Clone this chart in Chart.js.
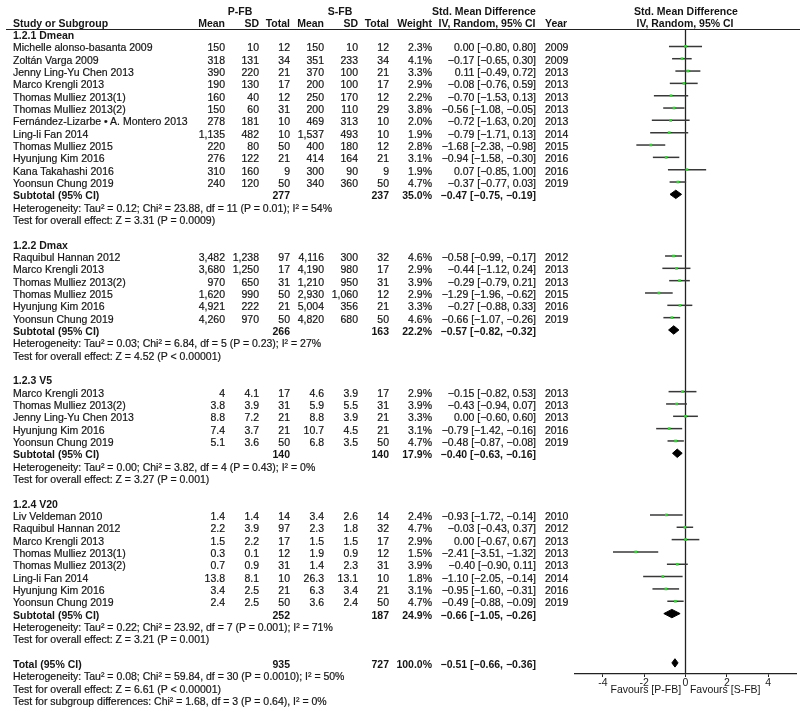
<!DOCTYPE html>
<html>
<head>
<meta charset="utf-8">
<script src="https://cdn.jsdelivr.net/npm/chart.js@4.4.0/dist/chart.umd.min.js"></script>
<style>
    body { margin: 0; background: #fff; }
    #wrap {
        position: relative; width: 800px; height: 710px; overflow: hidden;
        font-family: "Liberation Sans", Arial, sans-serif; font-size: 10.5px; color: #151515;
    }
    #plot { position: absolute; left: 0; top: 0; }
    .t { position: absolute; white-space: nowrap; line-height: 12px; height: 12px; -webkit-text-stroke: 0.2px #151515; }
    .b { font-weight: bold; -webkit-text-stroke: 0; }
    .hline { position: absolute; left: 6px; width: 794px; top: 29px; border-top: 1.5px solid #222; }
</style>
</head>
<body>
<div id="wrap">
    <canvas id="plot" width="800" height="710"></canvas>
    <div class="hline"></div>
    <div id="table"></div>
</div>
<script>
const groupLabels = ['1.2.1 Dmean', '1.2.2 Dmax', '1.2.3 V5', '1.2.4 V20'];
const groupSizes = [12, 6, 5, 8];

const studies = [
    'Michelle alonso-basanta 2009', 'Zoltán Varga 2009', 'Jenny Ling-Yu Chen 2013', 'Marco Krengli 2013',
    'Thomas Mulliez 2013(1)', 'Thomas Mulliez 2013(2)', 'Fernández-Lizarbe • A. Montero 2013', 'Ling-li Fan 2014',
    'Thomas Mulliez 2015', 'Hyunjung Kim 2016', 'Kana Takahashi 2016', 'Yoonsun Chung 2019',
    'Raquibul Hannan 2012', 'Marco Krengli 2013', 'Thomas Mulliez 2013(2)', 'Thomas Mulliez 2015',
    'Hyunjung Kim 2016', 'Yoonsun Chung 2019',
    'Marco Krengli 2013', 'Thomas Mulliez 2013(2)', 'Jenny Ling-Yu Chen 2013', 'Hyunjung Kim 2016', 'Yoonsun Chung 2019',
    'Liv Veldeman 2010', 'Raquibul Hannan 2012', 'Marco Krengli 2013', 'Thomas Mulliez 2013(1)',
    'Thomas Mulliez 2013(2)', 'Ling-li Fan 2014', 'Hyunjung Kim 2016', 'Yoonsun Chung 2019'
];
const years = [2009, 2009, 2013, 2013, 2013, 2013, 2013, 2014, 2015, 2016, 2016, 2019,
    2012, 2013, 2013, 2015, 2016, 2019,
    2013, 2013, 2013, 2016, 2019,
    2010, 2012, 2013, 2013, 2013, 2014, 2016, 2019];

const pMean = [150, 318, 390, 190, 160, 150, 278, 1135, 220, 276, 310, 240,
    3482, 3680, 970, 1620, 4921, 4260,
    4, 3.8, 8.8, 7.4, 5.1,
    1.4, 2.2, 1.5, 0.3, 0.7, 13.8, 3.4, 2.4];
const pSD = [10, 131, 220, 130, 40, 60, 181, 482, 80, 122, 160, 120,
    1238, 1250, 650, 990, 222, 970,
    4.1, 3.9, 7.2, 3.7, 3.6,
    1.4, 3.9, 2.2, 0.1, 0.9, 8.1, 2.5, 2.5];
const pTotal = [12, 34, 21, 17, 12, 31, 10, 10, 50, 21, 9, 50,
    97, 17, 31, 50, 21, 50,
    17, 31, 21, 21, 50,
    14, 97, 17, 12, 31, 10, 21, 50];
const sMean = [150, 351, 370, 200, 250, 200, 469, 1537, 400, 414, 300, 340,
    4116, 4190, 1210, 2930, 5004, 4820,
    4.6, 5.9, 8.8, 10.7, 6.8,
    3.4, 2.3, 1.5, 1.9, 1.4, 26.3, 6.3, 3.6];
const sSD = [10, 233, 100, 100, 170, 110, 313, 493, 180, 164, 90, 360,
    300, 980, 950, 1060, 356, 680,
    3.9, 5.5, 3.9, 4.5, 3.5,
    2.6, 1.8, 1.5, 0.9, 2.3, 13.1, 3.4, 2.4];
const sTotal = [12, 34, 21, 17, 12, 29, 10, 10, 12, 21, 9, 50,
    32, 17, 31, 12, 21, 50,
    17, 31, 21, 21, 50,
    14, 32, 17, 12, 31, 10, 21, 50];
const weights = [2.3, 4.1, 3.3, 2.9, 2.2, 3.8, 2.0, 1.9, 2.8, 3.1, 1.9, 4.7,
    4.6, 2.9, 3.9, 2.9, 3.3, 4.6,
    2.9, 3.9, 3.3, 3.1, 4.7,
    2.4, 4.7, 2.9, 1.5, 3.9, 1.8, 3.1, 4.7];
const smd = [0.00, -0.17, 0.11, -0.08, -0.70, -0.56, -0.72, -0.79, -1.68, -0.94, 0.07, -0.37,
    -0.58, -0.44, -0.29, -1.29, -0.27, -0.66,
    -0.15, -0.43, 0.00, -0.79, -0.48,
    -0.93, -0.03, 0.00, -2.41, -0.40, -1.10, -0.95, -0.49];
const ciLow = [-0.80, -0.65, -0.49, -0.76, -1.53, -1.08, -1.63, -1.71, -2.38, -1.58, -0.85, -0.77,
    -0.99, -1.12, -0.79, -1.96, -0.88, -1.07,
    -0.82, -0.94, -0.60, -1.42, -0.87,
    -1.72, -0.43, -0.67, -3.51, -0.90, -2.05, -1.60, -0.88];
const ciHigh = [0.80, 0.30, 0.72, 0.59, 0.13, -0.05, 0.20, 0.13, -0.98, -0.30, 1.00, 0.03,
    -0.17, 0.24, 0.21, -0.62, 0.33, -0.26,
    0.53, 0.07, 0.60, -0.16, -0.08,
    -0.14, 0.37, 0.67, -1.32, 0.11, -0.14, -0.31, -0.09];

const subPTotal = [277, 266, 140, 252];
const subSTotal = [237, 163, 140, 187];
const subWeight = [35.0, 22.2, 17.9, 24.9];
const subSmd = [-0.47, -0.57, -0.40, -0.66];
const subLow = [-0.75, -0.82, -0.63, -1.05];
const subHigh = [-0.19, -0.32, -0.16, -0.26];
const subHet = [
    'Heterogeneity: Tau² = 0.12; Chi² = 23.88, df = 11 (P = 0.01); I² = 54%',
    'Heterogeneity: Tau² = 0.03; Chi² = 6.84, df = 5 (P = 0.23); I² = 27%',
    'Heterogeneity: Tau² = 0.00; Chi² = 3.82, df = 4 (P = 0.43); I² = 0%',
    'Heterogeneity: Tau² = 0.22; Chi² = 23.92, df = 7 (P = 0.001); I² = 71%'
];
const subZ = [
    'Test for overall effect: Z = 3.31 (P = 0.0009)',
    'Test for overall effect: Z = 4.52 (P < 0.00001)',
    'Test for overall effect: Z = 3.27 (P = 0.001)',
    'Test for overall effect: Z = 3.21 (P = 0.001)'
];

const totalP = 935;
const totalS = 727;
const totalWeight = 100.0;
const totalSmd = -0.51;
const totalLow = -0.66;
const totalHigh = -0.36;
const totalNotes = [
    'Heterogeneity: Tau² = 0.08; Chi² = 59.84, df = 30 (P = 0.0010); I² = 50%',
    'Test for overall effect: Z = 6.61 (P < 0.00001)',
    'Test for subgroup differences: Chi² = 1.68, df = 3 (P = 0.64), I² = 0%'
];

const xTicks = [-4, -2, 0, 2, 4];

// rows of the table, top to bottom
const rows = [];
let row = 0;
let si = 0;
groupLabels.forEach((g, gi) => {
    rows.push({ kind: 'group', gi, r: row++ });
    for (let k = 0; k < groupSizes[gi]; k++) {
        rows.push({ kind: 'study', si: si++, r: row++ });
    }
    rows.push({ kind: 'sub', gi, r: row++ });
    rows.push({ kind: 'het', gi, r: row++ });
    rows.push({ kind: 'z', gi, r: row++ });
    row++;
});
const totalRow = row;
rows.push({ kind: 'total', r: row++ });
totalNotes.forEach((t, i) => rows.push({ kind: 'note', i, r: row++ }));

const datasets = [];

// point estimates (drawn on top)
datasets.push({
    data: rows.filter(o => o.kind === 'study').map(o => ({ x: smd[o.si], y: o.r })),
    pointStyle: 'rect',
    pointRadius: 1.9,
    backgroundColor: '#3fcc3f',
    borderWidth: 0,
    order: 0
});

// CI whiskers
rows.filter(o => o.kind === 'study').forEach(o => {
    datasets.push({
        data: [{ x: ciLow[o.si], y: o.r }, { x: ciHigh[o.si], y: o.r }],
        showLine: true,
        borderColor: '#383838',
        borderWidth: 1.5,
        pointRadius: 0,
        order: 2
    });
});

// pooled diamonds
function diamond(est, lo, hi, r, h) {
    return {
        data: [{ x: lo, y: r }, { x: est, y: r - h }, { x: hi, y: r }, { x: est, y: r + h }, { x: lo, y: r }],
        showLine: true,
        fill: 'shape',
        backgroundColor: '#000',
        borderColor: '#000',
        borderWidth: 1,
        pointRadius: 0,
        tension: 0,
        order: 1
    };
}
rows.filter(o => o.kind === 'sub').forEach(o => {
    datasets.push(diamond(subSmd[o.gi], subLow[o.gi], subHigh[o.gi], o.r, 0.34));
});
datasets.push(diamond(totalSmd, totalLow, totalHigh, totalRow, 0.34));

// line of no effect
datasets.push({
    data: [{ x: 0, y: -0.41 }, { x: 0, y: 51.9 }],
    showLine: true,
    borderColor: '#222',
    borderWidth: 1.3,
    pointRadius: 0,
    order: 3
});

const chart = new Chart(document.getElementById('plot'), {
    type: 'scatter',
    data: { datasets },
    options: {
        responsive: false,
        animation: false,
        events: [],
        layout: { padding: { left: 575, right: 3, top: 29, bottom: 0 } },
        plugins: { legend: { display: false }, tooltip: { enabled: false } },
        scales: {
            x: {
                type: 'linear',
                min: -5.35,
                max: 5.35,
                afterBuildTicks: s => { s.ticks = xTicks.map(v => ({ value: v })); },
                afterFit: s => { s.height = 36; },
                border: { display: true, color: '#222', width: 1.3 },
                grid: { drawOnChartArea: false, drawTicks: true, tickLength: 3, color: '#222' },
                ticks: { color: '#222', padding: 0, font: { size: 10.5, family: 'Liberation Sans' } },
                title: {
                    display: true,
                    text: 'Favours [P-FB]   Favours [S-FB]',
                    color: '#151515',
                    font: { size: 10.5, family: 'Liberation Sans' },
                    padding: { top: 0, bottom: 14 }
                }
            },
            y: {
                type: 'linear',
                display: false,
                reverse: true,
                min: -0.41,
                max: 51.9
            }
        }
    }
});

// table text, placed on the chart's own row scale
const table = document.getElementById('table');
function put(text, x, y, align, bold) {
    const d = document.createElement('div');
    d.className = 't' + (bold ? ' b' : '');
    d.textContent = text;
    d.style.top = (y - 5) + 'px';
    if (align === 'right') {
        d.style.right = (800 - x) + 'px';
    } else if (align === 'center') {
        d.style.left = (x - 150) + 'px';
        d.style.width = '300px';
        d.style.textAlign = 'center';
    } else {
        d.style.left = x + 'px';
    }
    table.appendChild(d);
}
const fmt = v => v.toLocaleString('en-US', { maximumFractionDigits: 1 });
const num2 = v => (v < 0 ? '−' : '') + Math.abs(v).toFixed(2);
const ciText = (e, lo, hi) => num2(e) + ' [' + num2(lo) + ', ' + num2(hi) + ']';

const col = { name: 13, pMean: 225, pSD: 259, pTotal: 290, sMean: 324, sSD: 358, sTotal: 389, weight: 432, ci: 536, year: 545 };

// headers
put('P-FB', 240, 10, 'center', true);
put('S-FB', 340, 10, 'center', true);
put('Std. Mean Difference', 484, 10, 'center', true);
put('Std. Mean Difference', 686, 10, 'center', true);
put('Study or Subgroup', col.name, 22, 'left', true);
put('Mean', col.pMean, 22, 'right', true);
put('SD', col.pSD, 22, 'right', true);
put('Total', col.pTotal, 22, 'right', true);
put('Mean', col.sMean, 22, 'right', true);
put('SD', col.sSD, 22, 'right', true);
put('Total', col.sTotal, 22, 'right', true);
put('Weight', col.weight, 22, 'right', true);
put('IV, Random, 95% CI', 487, 22, 'center', true);
put('Year', col.year, 22, 'left', true);
put('IV, Random, 95% CI', 685, 22, 'center', true);

const ys = chart.scales.y;
rows.forEach(o => {
    const y = ys.getPixelForValue(o.r);
    if (o.kind === 'group') {
        put(groupLabels[o.gi], col.name, y, 'left', true);
    } else if (o.kind === 'study') {
        const i = o.si;
        put(studies[i], col.name, y, 'left');
        put(fmt(pMean[i]), col.pMean, y, 'right');
        put(fmt(pSD[i]), col.pSD, y, 'right');
        put(fmt(pTotal[i]), col.pTotal, y, 'right');
        put(fmt(sMean[i]), col.sMean, y, 'right');
        put(fmt(sSD[i]), col.sSD, y, 'right');
        put(fmt(sTotal[i]), col.sTotal, y, 'right');
        put(weights[i].toFixed(1) + '%', col.weight, y, 'right');
        put(ciText(smd[i], ciLow[i], ciHigh[i]), col.ci, y, 'right');
        put(String(years[i]), col.year, y, 'left');
    } else if (o.kind === 'sub') {
        const g = o.gi;
        put('Subtotal (95% CI)', col.name, y, 'left', true);
        put(String(subPTotal[g]), col.pTotal, y, 'right', true);
        put(String(subSTotal[g]), col.sTotal, y, 'right', true);
        put(subWeight[g].toFixed(1) + '%', col.weight, y, 'right', true);
        put(ciText(subSmd[g], subLow[g], subHigh[g]), col.ci, y, 'right', true);
    } else if (o.kind === 'het') {
        put(subHet[o.gi], col.name, y, 'left');
    } else if (o.kind === 'z') {
        put(subZ[o.gi], col.name, y, 'left');
    } else if (o.kind === 'total') {
        put('Total (95% CI)', col.name, y, 'left', true);
        put(String(totalP), col.pTotal, y, 'right', true);
        put(String(totalS), col.sTotal, y, 'right', true);
        put(totalWeight.toFixed(1) + '%', col.weight, y, 'right', true);
        put(ciText(totalSmd, totalLow, totalHigh), col.ci, y, 'right', true);
    } else if (o.kind === 'note') {
        put(totalNotes[o.i], col.name, y, 'left');
    }
});
</script>
</body>
</html>
